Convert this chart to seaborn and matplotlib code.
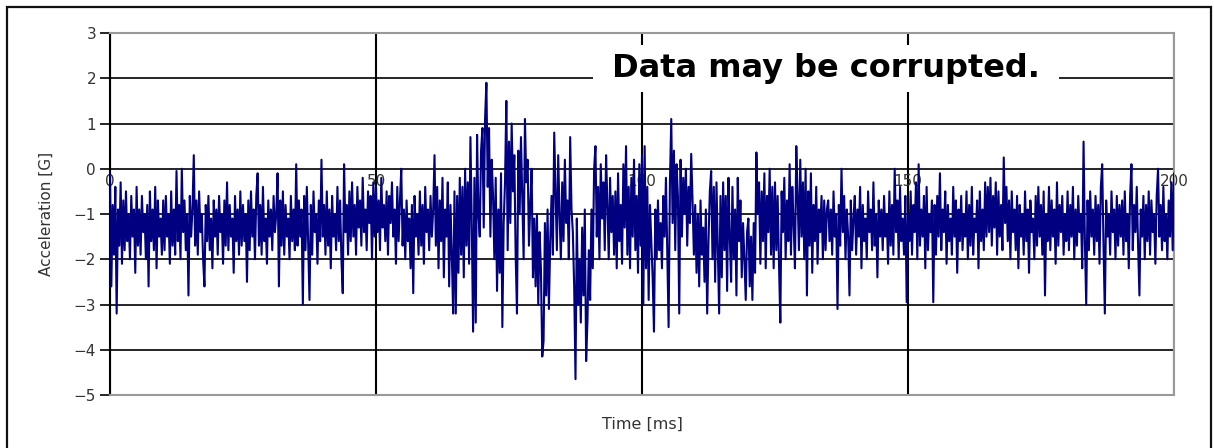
import numpy as np
import pandas as pd
import matplotlib
matplotlib.use("Agg")
import matplotlib.pyplot as plt
from matplotlib.patches import Rectangle
import seaborn as sns

# ---------------- data ----------------
x_ticks = [0, 50, 100, 150, 200]
x_tick_labels = ["0", "50", "100", "150", "200"]
y_ticks = [3, 2, 1, 0, -1, -2, -3, -4, -5]
y_tick_labels = ["3", "2", "1", "0", "\u22121", "\u22122", "\u22123", "\u22124", "\u22125"]
x_label = "Time [ms]"
y_label = "Acceleration [G]"
note_text = "Data may be corrupted."
sample_step_ms = 0.25

acc_0_50 = [
    -0.1, -2.6, -0.8, -1.9, -0.4, -3.2, -0.9, -1.7, -0.3, -2.1, -0.7, -1.8, -0.5, -1.6, -1.0, -2.0, -0.6, -1.5, -0.9, -2.3,
    -0.4, -1.7, -0.9, -1.9, -0.6, -1.4, -1.0, -2.0, -0.8, -2.6, -0.5, -1.6, -0.9, -1.8, -0.4, -2.2, -0.7, -1.5, -1.1, -1.9,
    -0.7, -1.8, -0.6, -1.5, -1.0, -2.1, -0.5, -1.7, -0.9, -1.9, -0.05, -1.6, -0.8, -2.0, 0.0, -1.4, -0.7, -1.8, -1.0, -2.8,
    -0.6, -1.5, -0.9, 0.3, -1.7, -0.7, -1.9, -0.5, -1.4, -1.0, -2.0, -2.6, -0.8, -1.6, -0.6, -1.8, -1.1, -2.2, -0.7, -1.5,
    -0.9, -1.9, -0.6, -1.4, -1.0, -2.1, -0.7, -1.7, -0.3, -1.8, -0.8, -1.5, -1.1, -2.3, -0.6, -1.6, -0.9, -1.9, -0.5, -1.7,
    -0.8, -1.6, -1.0, -2.5, -0.7, -1.8, -0.5, -1.5, -0.9, -2.0, -0.6, -0.1, -1.7, -0.8, -1.9, -0.4, -1.6, -1.1, -2.1, -0.7,
    -1.5, -0.9, -1.8, -0.6, -1.4, -1.0, -0.1, -2.6, -0.7, -1.7, -0.5, -1.9, -0.8, -1.5, -1.1, -2.0, -0.6, -1.6, -0.9, -1.8,
    0.1, -1.7, -0.7, -1.5, -0.9, -3.0, -0.6, -1.8, -0.4, -1.6, -2.9, -0.8, -1.9, -0.5, -1.4, -1.0, -2.1, -0.7, -1.6, 0.2,
    -1.5, -0.8, -1.9, -0.5, -1.7, -0.9, -2.2, -0.6, -1.5, -1.0, -1.8, -0.4, -1.6, -0.7, -2.0, -2.75, 0.1, -1.4, -0.8, -1.9,
    -0.5, -1.6, -0.3, -1.5, -0.8, -1.9, -0.4, -1.3, -0.7, -1.7, -0.2, -1.4, -0.9, -1.8, -0.5, -1.2, -0.6, -2.0, -0.3, -1.5,
]

acc_50_100 = [
    -0.4, -1.4, -0.7, -1.8, -0.2, -1.3, -0.8, -1.6, -0.5, -1.9, -0.6, -1.2, -0.3, -1.5, -0.9, -2.1, -0.4, -1.6, -0.7, 0.0,
    -1.7, -0.9, -2.0, -0.7, -1.6, -1.1, -2.2, -0.8, -2.75, -0.6, -1.5, -1.0, -1.9, -0.5, -1.7, -0.8, -2.1, -0.4, -1.4, -0.9,
    -1.8, -0.6, -1.5, -0.9, 0.3, -1.7, -0.4, -2.2, -0.7, -1.6, -0.2, -2.4, -0.9, -1.5, -0.3, -2.6, -0.8, -1.9, -3.2, -0.5,
    -3.2, -0.6, -2.3, -0.2, -1.9, -0.4, -2.4, 0.0, -1.7, -0.3, -2.1, 0.7, -1.2, -3.6, -0.2, -3.4, 0.75, -1.0, -1.5, 0.4,
    0.9, -1.3, 1.1, 1.9, -0.4, 0.9, -1.5, 0.2, -0.6, -2.0, -0.2, -2.7, -0.9, -2.3, -0.1, -3.5, -1.2, -0.3, 1.5, -1.8,
    0.6, -1.2, 1.0, -0.5, 0.3, -1.9, -3.2, 0.4, -1.0, 0.7, -0.6, -2.0, 1.1, -0.3, 0.2, -1.7, -0.8, 0.0, -2.4, -1.1,
    -2.6, -1.0, -3.0, -1.4, -2.2, -4.15, -3.8, -1.2, -2.8, -0.9, -3.1, -1.6, -0.6, -1.9, 0.8, -0.5, -1.8, 0.3, -1.0, -2.0,
    -0.3, -1.6, 0.2, -1.2, -0.7, -2.0, 0.7, -0.9, -1.4, -2.6, -4.65, -1.1, -3.0, -2.0, -3.4, -1.3, -2.8, -0.9, -4.25, -3.35,
    -1.8, -2.9, -0.9, -2.2, 0.0, 0.5, -1.5, -0.4, -2.0, 0.1, -1.1, -0.3, -1.8, 0.3, -0.8, -2.0, -0.2, -1.4, -0.6, -1.9,
    -0.5, -2.2, -0.1, -1.6, -0.8, -2.1, 0.1, -1.3, 0.5, -1.9, -0.4, -2.2, -0.2, -1.5, 0.2, -1.8, -0.6, -2.3, 0.1, -1.7,
]

acc_100_150 = [
    0.3, -3.0, 0.5, -2.2, -0.4, -2.9, -0.8, -1.6, -2.4, -3.6, -0.9, -2.0, -0.7, -1.8, -1.2, -2.2, -0.6, -1.5, -0.2, -1.9,
    -3.5, -0.3, 1.1, -1.2, 0.4, -1.8, 0.1, -0.6, -3.2, 0.2, -1.5, -0.2, -1.0, 0.0, -1.7, -0.4, -1.2, 0.33, -0.7, -1.9,
    -0.8, -2.3, -1.0, -2.6, -0.7, -1.9, -1.3, -2.5, -0.9, -3.2, -1.6, -0.5, -0.05, -2.0, -0.4, -2.5, -0.3, -1.8, -3.2, -0.6,
    -2.4, -0.3, -1.8, -0.6, -2.7, -0.2, -1.5, -2.5, -0.4, -2.0, -0.9, -2.8, -0.2, -1.6, -0.7, -2.4, -1.2, -2.0, -2.9, -1.4,
    -1.1, -2.6, -1.5, -2.9, -1.2, -2.3, 0.36, -1.0, -0.3, -2.1, -0.5, -1.6, -0.1, -2.2, -0.6, -1.4, 0.0, -1.9, -0.4, -2.2,
    -0.3, -1.8, -0.6, -2.1, -3.4, -0.5, -1.4, -0.2, -2.0, -0.7, -1.6, 0.1, -1.9, -0.4, -1.2, -2.2, 0.5, -0.6, -1.8, 0.2,
    -1.5, -0.3, -2.0, 0.0, -2.8, -0.5, -1.7, -0.1, -2.3, -0.8, -1.6, -0.4, -2.1, -0.9, -1.4, -0.6, -2.0, -0.7, -1.8, -0.9,
    -0.7, -1.6, -0.9, -1.9, -0.5, -1.5, -1.0, -3.1, -0.8, -1.7, 0.0, -1.4, -0.6, -2.0, -0.9, -1.5, -2.8, -0.7, -1.8, -1.1,
    -0.6, -1.9, -0.9, -1.5, -0.4, -2.2, -0.8, -1.6, -1.1, -2.0, -0.5, -1.4, -0.9, -1.8, -0.3, -1.7, -1.0, -2.4, -0.7, -1.5,
    -0.9, -1.8, -0.6, -1.5, -1.0, -2.1, -0.5, -1.7, -0.8, -1.9, 0.0, -1.4, -0.7, -2.0, -0.4, -1.6, -1.1, -1.9, -0.6, -2.95,
]

acc_150_200 = [
    -1.0, -1.6, -0.5, -1.9, -0.8, -1.4, -0.3, -2.0, 0.1, -1.7, -0.9, -1.5, -0.6, -2.2, -0.4, -1.8, -1.0, -1.4, -0.7, -2.95,
    -0.8, -1.9, -0.6, -1.5, -0.1, -1.8, -0.9, -1.4, -0.5, -2.1, -0.8, -1.6, -1.1, -1.9, -0.4, -1.5, -0.7, -2.3, -0.9, -1.6,
    -0.6, -1.8, -1.0, -1.5, -0.5, -2.0, -0.8, -1.7, -0.4, -1.9, -1.1, -1.4, -0.7, -2.2, -0.5, -1.6, -0.9, -1.8, -0.3, -1.5,
    -0.4, -1.4, -0.2, -1.7, -0.6, -1.3, -0.3, -1.9, -0.5, -1.5, -0.8, -1.8, 0.25, -1.2, -0.4, -1.6, -0.7, -2.0, -0.5, -1.4,
    -0.9, -1.8, -0.6, -2.2, -0.8, -1.5, -1.0, -1.9, -0.5, -1.6, -0.9, -2.3, -0.7, -1.4, -1.1, -2.0, -0.6, -1.7, -0.4, -1.5,
    -0.8, -1.9, -0.5, -2.8, -1.0, -1.6, -0.4, -1.8, -0.7, -1.5, -0.9, -2.1, -0.3, -1.7, -0.8, -1.4, -0.6, -1.9, -1.0, -1.6,
    -0.5, -1.8, -0.8, -1.5, -0.4, -2.0, -0.9, -1.7, -0.6, -1.4, -1.0, -2.2, 0.6, -1.6, -3.0, -0.7, -1.8, -0.5, -1.5, -0.9,
    -1.9, -0.6, -1.6, -0.8, -2.1, -0.4, 0.1, -1.7, -3.2, -0.7, -1.5, -1.0, -1.9, -0.5, -1.4, -0.9, -2.0, -0.6, -1.7, -0.8,
    -1.5, -0.7, -1.9, -0.5, -1.6, -1.0, -2.2, -0.6, 0.1, -1.8, -0.8, -1.4, -0.4, -1.7, -2.8, -0.9, -1.5, -0.6, -2.0, -0.8,
    -1.6, -0.5, -1.9, -0.7, -1.4, -1.0, -2.1, -0.6, 0.0, -1.5, -0.8, -1.8, -0.4, -1.6, -1.0, -2.0, -0.7, -1.5, -0.3, -1.8,
    -0.1,
]

acceleration = acc_0_50 + acc_50_100 + acc_100_150 + acc_150_200
time_ms = np.arange(len(acceleration)) * sample_step_ms
df = pd.DataFrame({"time": time_ms, "acc": acceleration})

# ---------------- style ----------------
sns.set_style("white")
plt.rcParams["font.family"] = ["DejaVu Sans"]

W, H = 1214, 448
fig = plt.figure(figsize=(W / 100, H / 100), dpi=100)
ax = fig.add_axes([110 / W, 1 - 395 / H, (1174 - 110) / W, (395 - 33) / H])

# outer frame
fig.patches.append(Rectangle((7 / W, -0.05), (1211 - 7) / W, 1.05 - 7 / H,
                             transform=fig.transFigure, fill=False,
                             edgecolor="#111111", linewidth=1.6))

ax.set_axisbelow(True)
sns.lineplot(data=df, x="time", y="acc", ax=ax, color="#000080",
             linewidth=1.5, estimator=None, sort=False, zorder=3)

ax.set_xlim(x_ticks[0], x_ticks[-1])
ax.set_ylim(min(y_ticks), max(y_ticks))
ax.set_xticks(x_ticks)
ax.set_yticks(y_ticks)
ax.set_yticklabels(y_tick_labels)
ax.tick_params(axis="x", length=0, labelbottom=False)
ax.tick_params(axis="y", direction="out", length=7, width=1.2, color="black",
               pad=3, labelsize=11, labelcolor="#333333", left=True)

ax.grid(True, color="black", linewidth=1.2)
for gl in ax.get_xgridlines():
    gl.set_linewidth(1.5)

for side in ["top", "right", "bottom"]:
    ax.spines[side].set_color("#999999")
    ax.spines[side].set_linewidth(1.5)
ax.spines["left"].set_color("black")
ax.spines["left"].set_linewidth(1.5)

# x tick labels sit just below the zero line, behind the trace
for xv, lab in zip(x_ticks, x_tick_labels):
    ax.text(xv, -0.28, lab, ha="center", va="center", fontsize=11,
            color="#333333", zorder=1)

ax.set_xlabel(x_label, fontsize=11.5, color="#333333", labelpad=16)
ax.set_ylabel(y_label, fontsize=11, color="#333333", labelpad=14)

ax.text(134.5, 2.21, " " + note_text + " ", ha="center", va="center",
        fontsize=23, fontweight="bold", color="black", zorder=5,
        bbox=dict(boxstyle="square,pad=0.25", facecolor="white", edgecolor="none"))

fig.savefig("out.png", dpi=100)
